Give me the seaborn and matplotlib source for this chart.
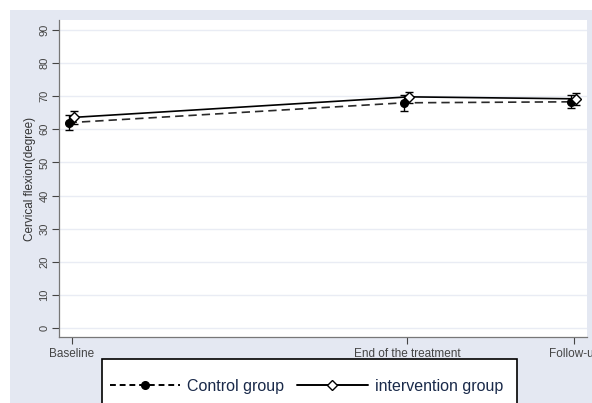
import matplotlib
matplotlib.use("Agg")
import matplotlib.pyplot as plt
from matplotlib.lines import Line2D
from matplotlib.patches import Rectangle
import pandas as pd
import seaborn as sns

# time points (weeks) and their labels
weeks = [0, 4, 6]
tick_labels = ["Baseline", "End of the treatment", "Follow-up"]

control_mean = [62.0, 68.0, 68.3]
control_low = [59.8, 65.6, 66.4]
control_high = [64.2, 70.4, 70.3]

interv_mean = [63.6, 69.8, 69.2]
interv_low = [61.6, 67.8, 67.4]
interv_high = [65.6, 71.4, 71.0]

BG = "#e4e8f2"
GRID = "#e9ecf4"


def build_frame() -> pd.DataFrame:
    rows = []
    for name, mean, lo, hi, shift in [
        ("Control group", control_mean, control_low, control_high, -0.04),
        ("intervention group", interv_mean, interv_low, interv_high, 0.02),
    ]:
        for w, m, l, h in zip(weeks, mean, lo, hi):
            rows.append({"group": name, "week": w + shift, "mean": m, "low": l, "high": h})
    return pd.DataFrame(rows)


def main() -> None:
    sns.set_style("white")
    plt.rcParams["font.family"] = ["Liberation Sans", "DejaVu Sans"]

    df = build_frame()

    fig = plt.figure(figsize=(5.92, 4.03), dpi=100)
    fig.patch.set_facecolor("white")
    # Stata-like outer panel
    fig.add_artist(Rectangle((10 / 592, 0), 1, 1 - 10 / 403,
                             transform=fig.transFigure, facecolor=BG,
                             edgecolor="none", zorder=-5))

    ax = fig.add_axes([59 / 592, 1 - 337 / 403, (587 - 59) / 592, (337 - 20) / 403])
    ax.set_zorder(1)
    ax.set_facecolor("white")

    styles = {
        "Control group": dict(color="#2a2a2a", ls=(0, (5, 3)), marker="o", mfc="black", ms=5.5),
        "intervention group": dict(color="black", ls="-", marker="D", mfc="white", ms=5),
    }

    for name, sub in df.groupby("group"):
        st = styles[name]
        ax.errorbar(sub["week"], sub["mean"],
                    yerr=[sub["mean"] - sub["low"], sub["high"] - sub["mean"]],
                    fmt="none", ecolor="black", elinewidth=1.0, capsize=3, capthick=1.0, zorder=3)
        sns.lineplot(data=sub, x="week", y="mean", ax=ax, color=st["color"],
                     linestyle=st["ls"], linewidth=1.2, marker=st["marker"],
                     markerfacecolor=st["mfc"], markeredgecolor="black",
                     markeredgewidth=1.0, markersize=st["ms"], zorder=4, legend=False)

    ax.set_xlim(-0.155, 6.15)
    ax.set_ylim(-2.7, 93)
    ax.set_xticks(weeks, tick_labels)
    ax.set_yticks(range(0, 91, 10))
    ax.tick_params(axis="y", labelrotation=90, labelsize=8, colors="#444444",
                   length=5, width=0.8, pad=2, left=True)
    ax.tick_params(axis="x", labelsize=8.5, colors="#444444", length=5, width=0.8,
                   pad=3, bottom=True)
    for lab in ax.get_yticklabels():
        lab.set_verticalalignment("center")
    ax.yaxis.grid(True, color=GRID, linewidth=1.0)
    ax.set_axisbelow(True)
    ax.set_xlabel("")
    ax.set_ylabel("Cervical flexion(degree)", fontsize=8.5, color="#333333", labelpad=2)
    for side in ["top", "right"]:
        ax.spines[side].set_visible(False)
    for side in ["left", "bottom"]:
        ax.spines[side].set_color("#777777")
        ax.spines[side].set_linewidth(0.9)

    # legend box, cut off by the bottom edge like the source
    fig.add_artist(Rectangle((102 / 592, -0.05), (517 - 102) / 592, 0.05 + 1 - 359 / 403,
                             transform=fig.transFigure, facecolor="white",
                             edgecolor="black", linewidth=1.2, zorder=2))

    handles = [
        Line2D([], [], color="black", ls=(0, (3, 2)), lw=1.4, marker="o", mfc="black",
               mec="black", ms=5.5),
        Line2D([], [], color="black", ls="-", lw=1.4, marker="D", mfc="white",
               mec="black", ms=5.5),
    ]
    leg = fig.legend(handles, ["Control group", "intervention group"], ncol=2,
                     loc="center left", bbox_to_anchor=(110 / 592, 1 - 386 / 403),
                     fontsize=11.5, frameon=False,
                     handlelength=4.4, handletextpad=0.45, columnspacing=0.8,
                     borderpad=0, borderaxespad=0)
    leg.set_zorder(3)
    for t in leg.get_texts():
        t.set_color("#1a2a4a")

    fig.savefig("out.png", dpi=100)
    plt.close(fig)


if __name__ == "__main__":
    main()
